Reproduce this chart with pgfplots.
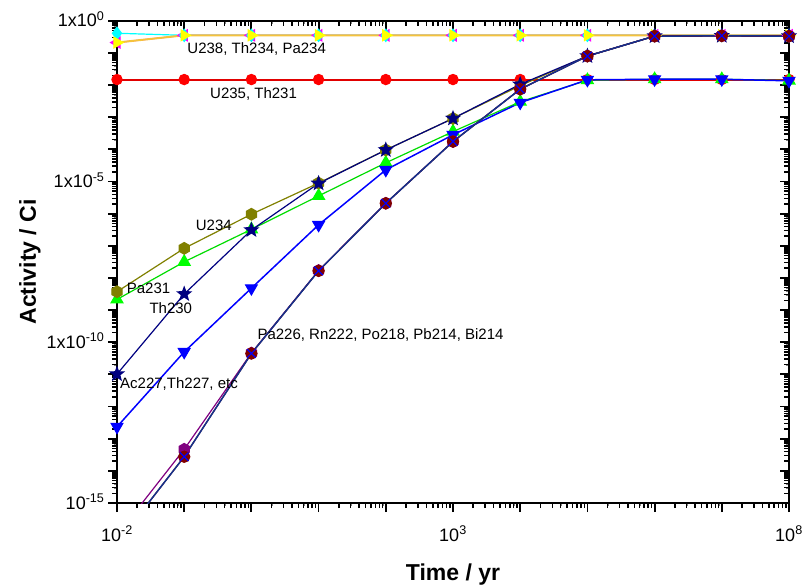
\documentclass[border=0pt]{standalone}
\usepackage{pgfplots}
\pgfplotsset{compat=1.18}
\usepackage{fontspec}
\setmainfont{Liberation Sans}
\definecolor{olivec}{RGB}{128,128,0}
\definecolor{navyc}{RGB}{0,0,128}
\definecolor{darkredc}{RGB}{128,0,0}
\definecolor{purplec}{RGB}{128,0,128}
\definecolor{goldline}{RGB}{245,195,60}
\definecolor{raline}{RGB}{20,50,140}
\definecolor{redc}{RGB}{255,0,0}
\definecolor{redline}{RGB}{225,0,0}
\definecolor{greenc}{RGB}{0,255,0}
\definecolor{greenline}{RGB}{0,220,0}
\definecolor{bluec}{RGB}{0,0,255}
\definecolor{cyanc}{RGB}{0,255,255}
\definecolor{magentac}{RGB}{255,0,255}
\definecolor{yellowc}{RGB}{255,255,0}
\pgfdeclareplotmark{hexagon*}{%
  \pgfpathmoveto{\pgfpointpolar{30}{\pgfplotmarksize}}%
  \pgfpathlineto{\pgfpointpolar{90}{\pgfplotmarksize}}%
  \pgfpathlineto{\pgfpointpolar{150}{\pgfplotmarksize}}%
  \pgfpathlineto{\pgfpointpolar{210}{\pgfplotmarksize}}%
  \pgfpathlineto{\pgfpointpolar{270}{\pgfplotmarksize}}%
  \pgfpathlineto{\pgfpointpolar{330}{\pgfplotmarksize}}%
  \pgfpathclose
  \pgfusepathqfillstroke}
\pgfdeclareplotmark{fstar}{%
  \pgfpathmoveto{\pgfpointpolar{90}{\pgfplotmarksize}}%
  \pgfpathlineto{\pgfpointpolar{126}{0.42\pgfplotmarksize}}%
  \pgfpathlineto{\pgfpointpolar{162}{\pgfplotmarksize}}%
  \pgfpathlineto{\pgfpointpolar{198}{0.42\pgfplotmarksize}}%
  \pgfpathlineto{\pgfpointpolar{234}{\pgfplotmarksize}}%
  \pgfpathlineto{\pgfpointpolar{270}{0.42\pgfplotmarksize}}%
  \pgfpathlineto{\pgfpointpolar{306}{\pgfplotmarksize}}%
  \pgfpathlineto{\pgfpointpolar{342}{0.42\pgfplotmarksize}}%
  \pgfpathlineto{\pgfpointpolar{18}{\pgfplotmarksize}}%
  \pgfpathlineto{\pgfpointpolar{54}{0.42\pgfplotmarksize}}%
  \pgfpathclose
  \pgfusepathqfillstroke}
\def\minorX{2e-2,3e-2,4e-2,5e-2,6e-2,7e-2,8e-2,9e-2,2e-1,3e-1,4e-1,5e-1,6e-1,7e-1,8e-1,9e-1,2e0,3e0,4e0,5e0,6e0,7e0,8e0,9e0,2e1,3e1,4e1,5e1,6e1,7e1,8e1,9e1,2e2,3e2,4e2,5e2,6e2,7e2,8e2,9e2,2e3,3e3,4e3,5e3,6e3,7e3,8e3,9e3,2e4,3e4,4e4,5e4,6e4,7e4,8e4,9e4,2e5,3e5,4e5,5e5,6e5,7e5,8e5,9e5,2e6,3e6,4e6,5e6,6e6,7e6,8e6,9e6,2e7,3e7,4e7,5e7,6e7,7e7,8e7,9e7}
\def\minorY{2e-15,3e-15,4e-15,5e-15,6e-15,7e-15,8e-15,9e-15,2e-14,3e-14,4e-14,5e-14,6e-14,7e-14,8e-14,9e-14,2e-13,3e-13,4e-13,5e-13,6e-13,7e-13,8e-13,9e-13,2e-12,3e-12,4e-12,5e-12,6e-12,7e-12,8e-12,9e-12,2e-11,3e-11,4e-11,5e-11,6e-11,7e-11,8e-11,9e-11,2e-10,3e-10,4e-10,5e-10,6e-10,7e-10,8e-10,9e-10,2e-9,3e-9,4e-9,5e-9,6e-9,7e-9,8e-9,9e-9,2e-8,3e-8,4e-8,5e-8,6e-8,7e-8,8e-8,9e-8,2e-7,3e-7,4e-7,5e-7,6e-7,7e-7,8e-7,9e-7,2e-6,3e-6,4e-6,5e-6,6e-6,7e-6,8e-6,9e-6,2e-5,3e-5,4e-5,5e-5,6e-5,7e-5,8e-5,9e-5,2e-4,3e-4,4e-4,5e-4,6e-4,7e-4,8e-4,9e-4,2e-3,3e-3,4e-3,5e-3,6e-3,7e-3,8e-3,9e-3,2e-2,3e-2,4e-2,5e-2,6e-2,7e-2,8e-2,9e-2,2e-1,3e-1,4e-1,5e-1,6e-1,7e-1,8e-1,9e-1}
\begin{document}
\begin{tikzpicture}
\begin{axis}[
    at={(0pt,0pt)}, anchor=south west, scale only axis,
    width=672pt, height=482.3pt,
    xmode=log, ymode=log, xmin=1e-2, xmax=1e8, ymin=1e-15, ymax=1,
    xtick={1e-2,1e-1,1e0,1e1,1e2,1e3,1e4,1e5,1e6,1e7,1e8},
    ytick={1e-15,1e-14,1e-13,1e-12,1e-11,1e-10,1e-9,1e-8,1e-7,1e-6,1e-5,1e-4,1e-3,1e-2,1e-1,1e0},
    extra x ticks/.expand once={\minorX}, extra y ticks/.expand once={\minorY},
    extra x tick labels={}, extra y tick labels={},
    extra tick style={major tick length=5pt, every major tick/.append style={line width=1.5pt, black}},
    axis line style={line width=1.8pt},
    major tick length=9pt,
    every major tick/.append style={line width=1.8pt, black},
    tick align=inside, xtick pos=top, ytick pos=right,
    xticklabels=\empty, yticklabels=\empty]
\end{axis}
\begin{axis}[
    at={(0pt,0pt)}, anchor=south west, scale only axis,
    width=672pt, height=482.3pt,
    xmode=log, ymode=log, xmin=1e-2, xmax=1e8, ymin=1e-15, ymax=1,
    xtick={1e-2,1e-1,1e0,1e1,1e2,1e3,1e4,1e5,1e6,1e7,1e8},
    ytick={1e-15,1e-14,1e-13,1e-12,1e-11,1e-10,1e-9,1e-8,1e-7,1e-6,1e-5,1e-4,1e-3,1e-2,1e-1,1e0},
    extra x ticks/.expand once={\minorX}, extra y ticks/.expand once={\minorY},
    extra x tick labels={}, extra y tick labels={},
    extra tick style={major tick length=5pt, every major tick/.append style={line width=1.5pt, black}},
    axis line style={line width=1.8pt},
    major tick length=9pt,
    every major tick/.append style={line width=1.8pt, black},
  tick align=outside, xtick pos=bottom, ytick pos=left,
  ticklabel style={font=\fontsize{18}{20}\selectfont},
  xticklabels={10\textsuperscript{-2},,,,,10\textsuperscript{3},,,,,10\textsuperscript{8}},
  yticklabels={10\textsuperscript{-15},,,,,1x10\textsuperscript{-10},,,,,1x10\textsuperscript{-5},,,,,1x10\textsuperscript{0}},
  xticklabel style={anchor=base, yshift=-29pt},
  yticklabel style={anchor=base east, yshift=-6pt},
  xlabel={Time / yr}, ylabel={Activity / Ci},
  xlabel style={font=\fontsize{23}{26}\selectfont\bfseries, at={(axis description cs:0.5,-0.1597)}, anchor=base},
  ylabel style={font=\fontsize{23}{26}\selectfont\bfseries, at={(axis description cs:-0.1295,0.5)}, anchor=center},
  every axis plot/.append style={line width=1.2pt},
]
% Pa234 (magenta, left triangle)
\addplot[draw=magentac, mark=triangle*, mark size=6.3pt, mark options={fill=magentac, draw=magentac, rotate=90}] coordinates {
(1e-2,0.209) (1e-1,0.3508) (1e0,0.3508) (1e1,0.3508) (1e2,0.3508) (1e3,0.3508) (1e4,0.3508) (1e5,0.3508) (1e6,0.3508) (1e7,0.3508) (1e8,0.3508)};
% U238 (cyan)
\addplot[draw=cyanc, mark=diamond*, mark size=6pt, mark options={fill=cyanc, draw=cyanc}] coordinates {
(1e-2,0.407) (1e-1,0.3508) (1e0,0.3508) (1e1,0.3508) (1e2,0.3508) (1e3,0.3508) (1e4,0.3508) (1e5,0.3508) (1e6,0.3508) (1e7,0.3508) (1e8,0.3508)};
% Th234 (yellow, right triangle)
\addplot[draw=goldline, line width=2pt, mark=triangle*, mark size=6.3pt, mark options={fill=yellowc, draw=yellowc, line width=1pt, rotate=-90}] coordinates {
(1e-2,0.209) (1e-1,0.3508) (1e0,0.3508) (1e1,0.3508) (1e2,0.3508) (1e3,0.3508) (1e4,0.3508) (1e5,0.3508) (1e6,0.3508) (1e7,0.3508) (1e8,0.3508)};
% U235, Th231 (red)
\addplot[draw=redline, line width=2pt, mark=*, mark size=5.2pt, mark options={fill=redc, draw=redc, line width=1pt}] coordinates {
(1e-2,0.01479) (1e-1,0.01479) (1e0,0.01479) (1e1,0.01479) (1e2,0.01479) (1e3,0.01479) (1e4,0.01479) (1e5,0.01479) (1e6,0.01479) (1e7,0.01479) (1e8,0.01479)};
% Pa231 (green up triangle)
\addplot[draw=greenline, mark=triangle*, mark size=6.8pt, mark options={fill=greenc, draw=greenc}] coordinates {
(1e-2,2.14e-9) (1e-1,3.16e-8) (1e0,3.24e-7) (1e1,3.55e-6) (1e2,3.80e-5) (1e3,3.55e-4) (1e4,3.02e-3) (1e5,1.41e-2) (1e6,1.51e-2) (1e7,1.51e-2) (1e8,1.38e-2)};
% U234 (olive hexagon)
\addplot[draw=olivec, mark=hexagon*, mark size=5.8pt, mark options={fill=olivec, draw=olivec}] coordinates {
(1e-2,3.72e-9) (1e-1,8.32e-8) (1e0,9.55e-7) (1e1,8.91e-6) (1e2,9.55e-5) (1e3,9.12e-4) (1e4,9.55e-3) (1e5,7.94e-2) (1e6,0.331) (1e7,0.339) (1e8,0.331)};
% Th230 (navy star)
\addplot[draw=navyc, mark=fstar, mark size=6.8pt, mark options={fill=navyc, draw=navyc}] coordinates {
(1e-2,1.02e-11) (1e-1,3.16e-9) (1e0,3.09e-7) (1e1,8.71e-6) (1e2,9.55e-5) (1e3,9.12e-4) (1e4,1.05e-2) (1e5,7.94e-2) (1e6,0.331) (1e7,0.339) (1e8,0.331)};
% Ac227, Th227, etc (blue down triangle)
\addplot[draw=bluec, line width=1.5pt, mark=triangle*, mark size=6.8pt, mark options={fill=bluec, draw=bluec, line width=1pt, rotate=180}] coordinates {
(1e-2,2.34e-13) (1e-1,5.01e-11) (1e0,4.79e-9) (1e1,4.47e-7) (1e2,2.29e-5) (1e3,2.82e-4) (1e4,2.82e-3) (1e5,1.45e-2) (1e6,1.51e-2) (1e7,1.51e-2) (1e8,1.35e-2)};
% Ra226 group: purple hexagon
\addplot[draw=purplec, mark=hexagon*, mark size=5.8pt, mark options={fill=purplec, draw=purplec}] coordinates {
(1e-2,1.0e-16) (1e-1,4.68e-14) (1e0,4.6e-11) (1e1,1.7e-8) (1e2,2.1e-6) (1e3,1.75e-4) (1e4,7.4e-3) (1e5,7.94e-2) (1e6,0.331) (1e7,0.339) (1e8,0.331)};
% Ra226 group: dark red circles
\addplot[draw=darkredc, mark=*, mark size=5.6pt, mark options={fill=darkredc, draw=darkredc}] coordinates {
(1e-2,5.5e-17) (1e-1,2.75e-14) (1e0,4.47e-11) (1e1,1.66e-8) (1e2,2.09e-6) (1e3,1.74e-4) (1e4,7.41e-3) (1e5,7.94e-2) (1e6,0.331) (1e7,0.339) (1e8,0.331)};
% Ra226 group: blue crosses, navy line
\addplot[draw=raline, line width=1.5pt, mark=x, mark size=6pt, mark options={draw=bluec, line width=1.2pt}] coordinates {
(1e-2,5.5e-17) (1e-1,2.75e-14) (1e0,4.47e-11) (1e1,1.66e-8) (1e2,2.09e-6) (1e3,1.74e-4) (1e4,7.41e-3) (1e5,7.94e-2) (1e6,0.331) (1e7,0.339) (1e8,0.331)};
% annotations
\begin{scope}[every node/.style={font=\fontsize{15}{17}\selectfont, anchor=base west, inner sep=0pt}]
\node at (axis description cs:0.1046,0.932) {U238, Th234, Pa234};
\node at (axis description cs:0.1384,0.8377) {U235, Th231};
\node at (axis description cs:0.1171,0.566) {U234};
\node at (axis description cs:0.0144,0.4348) {Pa231};
\node at (axis description cs:0.0481,0.3933) {Th230};
\node at (axis description cs:0.2088,0.338) {Pa226, Rn222, Po218, Pb214, Bi214};
\node at (axis description cs:0.0045,0.2378) {Ac227,Th227, etc};
\end{scope}
\end{axis}
\pgfresetboundingbox
\path (-117pt,-82pt) rectangle (686pt,503pt);
\end{tikzpicture}
\end{document}
